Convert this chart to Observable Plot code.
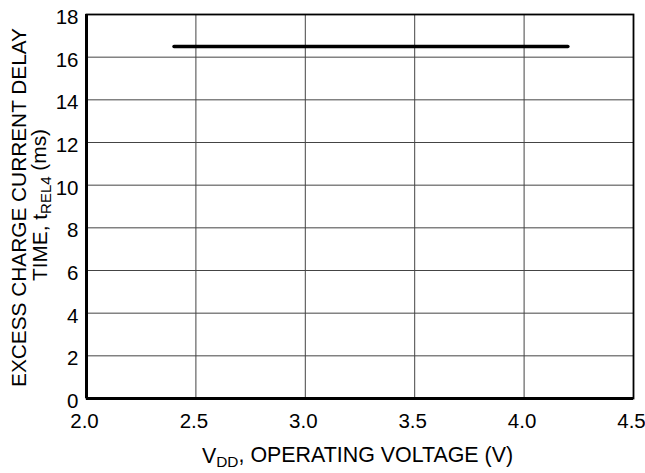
<!DOCTYPE html>
<html><head><meta charset="utf-8">
<script src="https://cdn.jsdelivr.net/npm/d3@7"></script>
<script src="https://cdn.jsdelivr.net/npm/@observablehq/plot@0.6"></script>
<style>body{margin:0;background:#fff}</style>
</head><body><div id="chart"></div>
<script>
const xTicks = [2.0, 2.5, 3.0, 3.5, 4.0, 4.5];
const yTicks = [0, 2, 4, 6, 8, 10, 12, 14, 16, 18];
const voltage = [2.4, 4.2];
const delay = [16.5, 16.5];
const data = voltage.map((v, i) => ({v, t: delay[i]}));

const font = "Liberation Sans, Arial, Helvetica, sans-serif";
const fs = 20.5;
const plot = Plot.plot({
  width: 645, height: 473,
  marginLeft: 86, marginRight: 12, marginTop: 14, marginBottom: 75,
  style: {fontFamily: font, background: "#fff", color: "#000"},
  x: {domain: [2.0, 4.5]},
  y: {domain: [0, 18]},
  marks: [
    Plot.ruleX(xTicks.slice(1, -1), {stroke: "#444", strokeWidth: 1}),
    Plot.ruleY(yTicks.slice(1, -1), {stroke: "#444", strokeWidth: 1}),
    Plot.frame({stroke: "#000", strokeWidth: 1.8}),
    Plot.ruleX([2.0], {stroke: "#000", strokeWidth: 3}),
    Plot.ruleY([0], {stroke: "#000", strokeWidth: 3}),
    Plot.line(data, {x: "v", y: "t", stroke: "#000", strokeWidth: 3.5}),
    Plot.axisX(xTicks, {tickSize: 0, tickPadding: 15, fontSize: fs, label: null, dx: -2, tickFormat: d3.format(".1f")}),
    Plot.axisY(yTicks, {tickSize: 0, tickPadding: 8, fontSize: fs, label: null, dy: 3})
  ]
});
document.getElementById("chart").appendChild(plot);

const svg = d3.select(plot);
function fit(sel, target) {
  let size = +sel.attr("font-size");
  for (let i = 0; i < 3; i++) {
    const len = sel.node().getComputedTextLength();
    if (!len) break;
    size = size * target / len;
    sel.attr("font-size", size);
  }
  return size;
}
const xl = svg.append("text").attr("x", 357.5).attr("y", 463).attr("text-anchor", "middle")
  .attr("font-size", 21).attr("font-family", font).attr("fill", "#000");
xl.append("tspan").text("V");
xl.append("tspan").attr("font-size", "0.72em").attr("dy", "0.24em").text("DD");
xl.append("tspan").attr("dy", "-0.24em").text(", OPERATING VOLTAGE (V)");
fit(xl, 311);

const yl1 = svg.append("text").attr("transform", "translate(26,207.5) rotate(-90)").attr("text-anchor", "middle")
  .attr("font-size", 20.5).attr("font-family", font).attr("fill", "#000").text("EXCESS CHARGE CURRENT DELAY");
const ys = fit(yl1, 359);
const yl2 = svg.append("text").attr("transform", "translate(47,205) rotate(-90)").attr("text-anchor", "middle")
  .attr("font-size", ys).attr("font-family", font).attr("fill", "#000");
yl2.append("tspan").text("TIME, t");
yl2.append("tspan").attr("font-size", "0.72em").attr("dy", "0.24em").text("REL4");
yl2.append("tspan").attr("dy", "-0.24em").text(" (ms)");
</script></body></html>
